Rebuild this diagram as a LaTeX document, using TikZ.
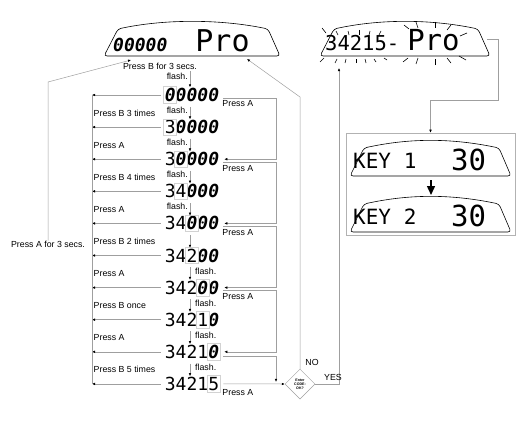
\documentclass[tikz,border=0pt]{standalone}
\usepackage{fontspec}
\setmainfont{Liberation Sans}
\newfontfamily\lcdfont{DejaVu Sans Mono}
\newfontfamily\lcdhollowfont{DejaVu Sans Mono Bold Oblique}
\usetikzlibrary{arrows.meta,shapes.geometric,positioning,calc}

% digit that is not yet entered
\newcommand\ud{{\lcdhollowfont 0}}
% outline of an LCD window: left x, right x, top y, bottom y
\newcommand\lcdframe[4]{%
  \draw[lcdline] (#1,#4) -- (#1+14,#3+8)
    .. controls (#1+60,#3-2) and (#2-60,#3-2) .. (#2-12,#3+8) -- (#2,#4) -- cycle;}

\begin{document}
\begin{tikzpicture}[x=1pt,y=-1pt,
  lbl/.style={font=\fontsize{8.8}{10}\selectfont, inner sep=0pt},
  conn/.style={draw=gray!75, line width=0.5pt},
  arr/.style={conn, -{Latex[length=3pt,width=2.6pt,color=black]}},
  lcdline/.style={draw=black, line width=0.6pt, rounded corners=3pt},
  row/.style={font=\lcdfont\fontsize{18}{18}\selectfont, inner sep=0pt,
              text height=13.1pt, text depth=0pt},
  hlbox/.style={draw=gray!35, line width=0.6pt},
  ray/.style={draw=black, line width=0.6pt}
]
\useasboundingbox (0,0) rectangle (529,420);

% bus lines
\coordinate (lbus) at (92,95);
\coordinate (rbus) at (276,95);
\coordinate (arrx) at (190,95);

% top left display
\lcdframe{104}{280}{21}{56}
\node[anchor=base west, inner sep=0pt] (lcdA) at (113,52)
  {{\lcdhollowfont\fontsize{18}{18}\selectfont 00000}\hspace{28pt}%
   {\lcdfont\fontsize{30}{30}\selectfont Pro}};

% top right display (flashing)
\lcdframe{320}{490}{21}{56}
\node[anchor=base west, inner sep=0pt] (lcdB) at (325,50)
  {{\lcdfont\fontsize{20.5}{20}\selectfont 34215-}\hspace{8pt}%
   {\lcdfont\fontsize{29}{29}\selectfont Pro}};
\foreach \a/\b/\c/\d in {322/28/326/33, 336/31/338/35, 348/31/349/35, 359/30/359/35,
    370/31/369/35, 381/31/379/35, 320/62/324/58, 335/63/337/59, 345/63/346/59,
    356/63/356/59, 366/63/365/59, 376/62/374/59, 387/60/384/58,
    404/25/409/29, 416/22/418/28, 435/22/435/28, 451/25/447/30, 467/33/460/36,
    403/62/408/58, 416/64/418/58, 435/65/435/59, 451/63/447/58, 466/60/459/56}
  \draw[ray] (\a,\b) -- (\c,\d);

% key box
\node[draw=gray!60, line width=0.6pt, minimum width=169pt, minimum height=102pt,
      inner sep=0pt] (keybox) at (430.5,184) {};
\lcdframe{350}{511}{140}{176}
\lcdframe{350}{511}{196}{232}
\node[anchor=base west, inner sep=0pt, font=\lcdfont\fontsize{21}{21}\selectfont]
  (key1) at (353,168) {KEY 1};
\node[anchor=base west, inner sep=0pt, font=\lcdfont\fontsize{29}{29}\selectfont]
  (val1) at (451,170) {30};
\node[anchor=base west, inner sep=0pt, font=\lcdfont\fontsize{21}{21}\selectfont]
  (key2) at (353,224) {KEY 2};
\node[anchor=base west, inner sep=0pt, font=\lcdfont\fontsize{29}{29}\selectfont]
  (val2) at (451,226) {30};
\coordinate (kA) at (431,180);
\coordinate (kB) at (431,195);
\draw[-{Triangle[width=8pt,length=9pt]}, line width=1.4pt] (kA) -- (kB);

% entry rows
\foreach \i/\txt/\hl in {0/{\ud\ud\ud\ud\ud}/1, 1/{3\ud\ud\ud\ud}/1, 2/{3\ud\ud\ud\ud}/2,
    3/{34\ud\ud\ud}/2, 4/{34\ud\ud\ud}/3, 5/{342\ud\ud}/3, 6/{342\ud\ud}/4,
    7/{3421\ud}/4, 8/{3421\ud}/5, 9/{34215}/5}{
  \pgfmathsetmacro\ry{95+32.1*\i}
  \node[row] (r\i) at (192,\ry) {\txt};
  \draw[hlbox] ([xshift={10.84pt*(\hl-1)-1pt}, yshift=-1.5pt]r\i.south west)
    rectangle ([xshift={10.84pt*\hl+1pt}, yshift=1.5pt]r\i.north west);
  \draw[arr] ($(r\i.west)+(-4,0)$) -- (r\i.west -| lbus);
}
\draw[conn] (r0.west -| lbus) -- (r9.west -| lbus);

% left labels
\foreach \i/\t in {0/Press B 3 times, 1/Press A, 2/Press B 4 times, 3/Press A,
    4/Press B 2 times, 5/Press A, 6/Press B once, 7/Press A, 8/Press B 5 times}
  \node[lbl, anchor=west] (lb\i) at ($(lbus |- r\i.center)+(1.5,18)$) {\t};

% flash arrows
\node[lbl] (pB3) at (160,66) {Press B for 3 secs.};
\node[lbl, anchor=east] (fl) at ($(arrx |- pB3)+(-2,10)$) {flash.};
\draw[arr] ($(pB3.south -| arrx)+(0,2)$) -- ($(r0.north -| arrx)+(0,-1)$);
\foreach \i [evaluate=\i as \j using int(\i+1)] in {0,...,8}
  \draw[arr] ($(r\i.south -| arrx)+(0,5)$) -- ($(r\j.north -| arrx)+(0,-1)$);
\foreach \i in {0,...,3}
  \node[lbl, anchor=east] at ($(arrx |- r\i.center)+(-2,15.5)$) {flash.};
\foreach \i in {5,...,8}
  \node[lbl, anchor=west] at ($(arrx |- r\i.center)+(5,15.5)$) {flash.};

% Press A loops on the right
\foreach \i/\j in {0/2, 2/4, 4/6, 6/8}{
  \draw[arr] ($(r\i.east)+(4,3)$) -- ($(r\i.east -| rbus)+(0,3)$)
    -- (r\j.east -| rbus) -- ($(r\j.east)+(5,0)$);
  \node[lbl, anchor=west] at ($(r\i.east)+(3,9)$) {Press A};
}
\node[diamond, draw=gray!75, line width=0.5pt, inner sep=0pt, minimum width=30pt,
      minimum height=30pt, align=center, font=\fontsize{3.6}{4}\selectfont\bfseries]
  (dia) at (300,384) {Enter\\CODE:\\OK?};
\draw[arr] ($(r8.east)+(4,4)$) -- ($(r8.east -| rbus)+(0,4)$)
  -- ($(r9.east -| rbus)+(0,-2)$);
\draw[arr] ($(r9.east)+(4,0)$) -- (dia.west);
\node[lbl, anchor=west] at ($(r9.east)+(3,9)$) {Press A};

% back to the start
\node[lbl] (pA3) at (48,244) {Press A for 3 secs.};
\coordinate (aturn) at (48,82);
\coordinate (inA) at (131,60);
\draw[arr] (pA3.north) -- (aturn) -- (inA);

% code check
\coordinate (noturn) at (300,97);
\coordinate (inNo) at (247,59);
\draw[arr] (dia.north) -- (noturn) -- (inNo);
\node[lbl] (no) at (312,362) {NO};
\coordinate (inYes) at (339,68);
\draw[arr] (dia.east) -- (dia.east -| inYes) -- (inYes);
\node[lbl] (yes) at (333,377) {YES};

% to the key list
\coordinate (outB) at (487,39);
\coordinate (kturn) at (498,100);
\draw[arr] (outB) -| (kturn) -| (keybox.north);
\end{tikzpicture}
\end{document}
